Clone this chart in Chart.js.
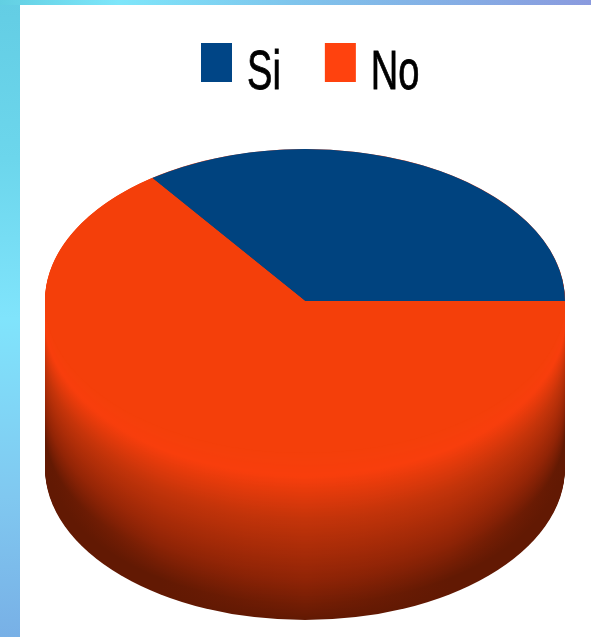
<!DOCTYPE html>
<html>
<head>
<meta charset="utf-8">
<script src="https://cdn.jsdelivr.net/npm/chart.js@4"></script>
<style>
html,body{margin:0;padding:0;width:591px;height:637px;overflow:hidden;background:#fff}
#stage{position:relative;width:591px;height:637px;background:#fff}
#left{position:absolute;left:0;top:0;width:20px;height:637px;background:linear-gradient(180deg,#63cde4 0%,#6cd6ec 25%,#80e4fc 50%,#80c8f0 78%,#78b0e6 100%)}
#top{position:absolute;left:0;top:0;width:591px;height:5px;background:linear-gradient(90deg,#62cfe2 0%,#7ee6fa 20%,#7fc4ec 50%,#8a9ade 100%)}
canvas{position:absolute;left:0;top:0}
</style>
</head>
<body>
<div id="stage"><div id="left"></div><div id="top"></div><canvas id="c" width="591" height="637"></canvas></div>
<script>
const categories = ["Si", "No"];
const shares = [35, 65];
const sliceColors = ["#00437F", "#F43F0A"];
const legendColors = ["#004586", "#FF420E"];

const FLATTEN = 152 / 260;   // vertical squash of the pie disc
const DEPTH = 167;           // height of the disc's side wall

function wallColor(d) {
  const stops = [[0,[244,63,10]],[24,[248,62,12]],[67,[196,52,10]],[127,[144,36,6]],[167,[98,25,3]]];
  for (let i = 1; i < stops.length; i++) {
    if (d <= stops[i][0]) {
      const a = stops[i-1], b = stops[i], t = (d - a[0]) / (b[0] - a[0]);
      const c = a[1].map((v, k) => Math.round(v + (b[1][k] - v) * t));
      return `rgb(${c[0]},${c[1]},${c[2]})`;
    }
  }
  return "rgb(98,25,3)";
}

const disc3d = {
  id: "disc3d",
  beforeDatasetsDraw(chart) {
    const arc = chart.getDatasetMeta(0).data[0];
    const ctx = chart.ctx, R = arc.outerRadius, ry = R * FLATTEN;
    ctx.save();
    for (let d = DEPTH; d >= 0; d--) {
      const g = ctx.createLinearGradient(arc.x - R, 0, arc.x + R, 0);
      const edge = wallColor(Math.min(DEPTH, d * 1.3));
      const mid = wallColor(Math.min(DEPTH, d * 1.1));
      const centre = wallColor(d);
      g.addColorStop(0, edge);
      g.addColorStop(0.22, mid);
      g.addColorStop(0.5, centre);
      g.addColorStop(0.78, mid);
      g.addColorStop(1, edge);
      ctx.fillStyle = g;
      ctx.beginPath();
      ctx.ellipse(arc.x, arc.y + d, R, ry, 0, 0, Math.PI * 2);
      ctx.fill();
    }
    ctx.restore();
    ctx.save();
    ctx.translate(0, arc.y);
    ctx.scale(1, FLATTEN);
    ctx.translate(0, -arc.y);
  },
  afterDatasetsDraw(chart) {
    chart.ctx.restore();
  }
};

const flatLegend = {
  id: "flatLegend",
  afterDraw(chart) {
    const ctx = chart.ctx, top = 43, boxW = 31, boxH = 39, gap = 15, spacing = 44, squeeze = 0.68;
    let x = 201;
    ctx.save();
    ctx.font = '56px "Liberation Sans"';
    ctx.textBaseline = "alphabetic";
    chart.data.labels.forEach((label, i) => {
      ctx.fillStyle = legendColors[i];
      ctx.fillRect(x, top, boxW, boxH);
      const tx = x + boxW + gap, w = ctx.measureText(label).width * squeeze;
      ctx.save();
      ctx.translate(tx, 89);
      ctx.scale(squeeze, 1);
      ctx.fillStyle = "#000";
      ctx.strokeStyle = "#000";
      ctx.lineWidth = 0.8;
      ctx.fillText(label, 0, 0);
      ctx.strokeText(label, 0, 0);
      ctx.restore();
      x = tx + w + spacing;
    });
    ctx.restore();
  }
};

new Chart(document.getElementById("c"), {
  type: "pie",
  data: {
    labels: categories,
    datasets: [{ data: shares, backgroundColor: sliceColors, borderWidth: 0, hoverOffset: 0 }]
  },
  options: {
    responsive: false,
    animation: false,
    rotation: -36,
    layout: { padding: { left: 45, right: 26, top: 41, bottom: 76 } },
    plugins: { legend: { display: false }, tooltip: { enabled: false } }
  },
  plugins: [disc3d, flatLegend]
});
</script>
</body>
</html>
